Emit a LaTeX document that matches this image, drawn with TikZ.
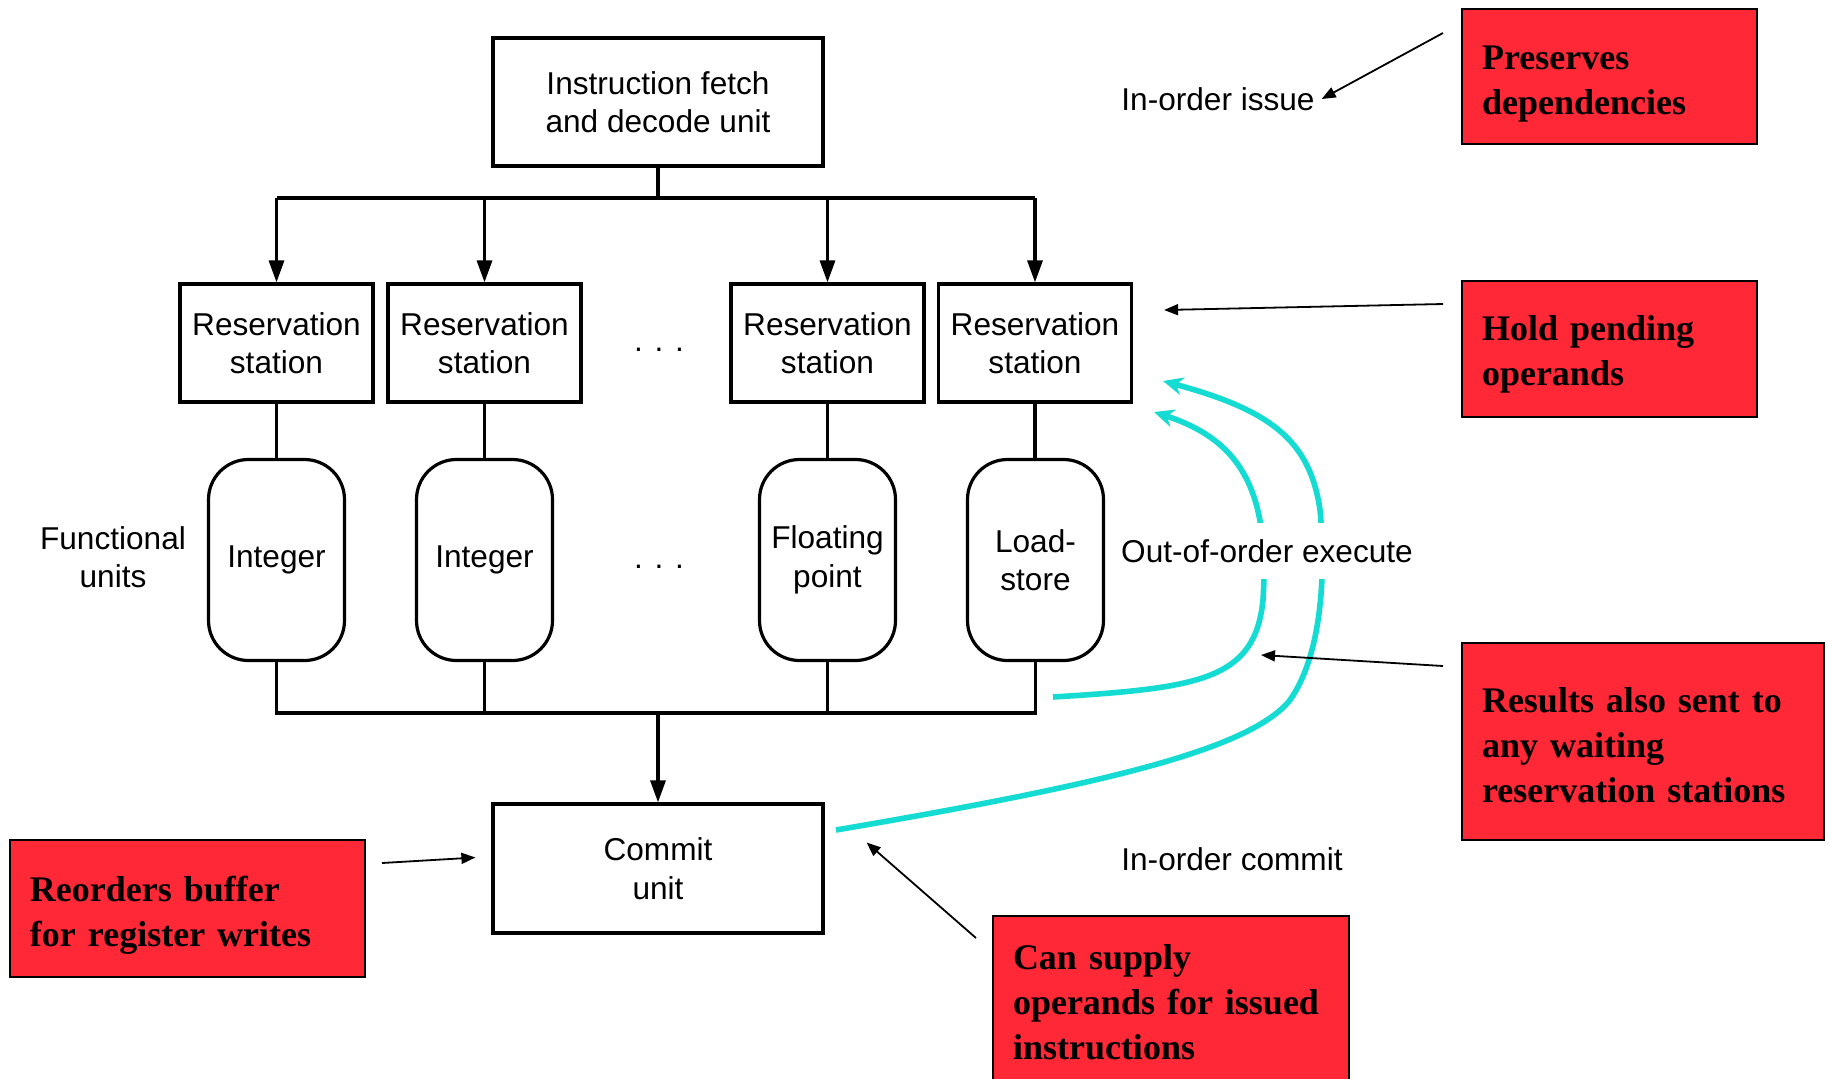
\documentclass[tikz,border=0pt]{standalone}
\usepackage{fontspec}
\setmainfont{Liberation Sans}
\newfontfamily\notefont{Liberation Serif}
\usetikzlibrary{arrows.meta}
\definecolor{notered}{RGB}{255,40,55}
\definecolor{fwdcyan}{RGB}{20,220,210}
\begin{document}
\begin{tikzpicture}[x=0.5pt,y=-0.5pt,
   every node/.style={font=\fontsize{15.8}{19.2}\selectfont, align=center},
   blockbox/.style={draw, line width=1.6pt, inner sep=0pt},
   station/.style={blockbox, minimum width=96.5pt, minimum height=59pt},
   funit/.style={blockbox, rounded corners=20pt, minimum width=68pt, minimum height=100.5pt},
   note/.style={draw, line width=1pt, fill=notered, anchor=north west, align=left,
                inner xsep=10pt, inner ysep=0pt,
                execute at begin node={\rule{0pt}{#1}},
                font=\notefont\bfseries\fontsize{18}{22.5}\selectfont},
   note/.default=0pt,
   wire/.style={line width=1.6pt},
   feed/.style={wire, -{Triangle[length=11pt,width=7.5pt]}},
   pointer/.style={line width=0.9pt, -{Triangle[length=7pt,width=5.5pt]}},
   forward/.style={line width=2.8pt, fwdcyan, -{Stealth[length=10pt,width=9pt]}}]

\useasboundingbox (0,0) rectangle (1828,1078);
\clip (0,0) rectangle (1828,1078);

\node[blockbox, minimum width=165pt, minimum height=64pt] (fetch) at (658,102) {Instruction fetch\\and decode unit};
\node[station] (rs1) at (276.5,343) {Reservation\\station};
\node[station] (rs2) at (484.5,343) {Reservation\\station};
\node[station] (rs3) at (827.5,343) {Reservation\\station};
\node[station] (rs4) at (1035,343) {Reservation\\station};
\node (dotsrs) at (659,350) {. . .};
\node[funit] (fu1) at (276.5,560) {Integer};
\node[funit] (fu2) at (484.5,560) {Integer};
\node[funit] (fu3) at (827.5,560) {Floating\\point};
\node[funit] (fu4) at (1035.5,560) {Load-\\store};
\node (dotsfu) at (659,567) {. . .};
\node (fulabel) at (113,557) {Functional\\units};
\node[blockbox, minimum width=165pt, minimum height=64.5pt] (commit) at (658,868.5) {Commit\\unit};

\coordinate (split) at (658,198);
\coordinate (bus) at (658,713);
\draw[wire] (fetch.south) -- (split);
\draw[wire] (rs1.north |- split) -- (rs4.north |- split);
\foreach \s in {rs1,rs2,rs3,rs4}
  \draw[feed] (\s.north |- split) -- (\s.north);
\foreach \i in {1,...,4}
  \draw[wire] (rs\i.south) -- (rs\i.south |- fu\i.north);
\draw[wire] (fu1.south) -- (fu1.south |- bus) -- (fu4.south |- bus) -- (fu4.south);
\draw[wire] (fu2.south) -- (fu2.south |- bus);
\draw[wire] (fu3.south) -- (fu3.south |- bus);
\draw[feed] (bus) -- (commit.north);

\coordinate (busend) at (1053,697);
\coordinate (robout) at (836,830);
\coordinate (rsinA) at (1154,412);
\coordinate (rsinB) at (1163,381);
\draw[forward] (busend) .. controls (1200,688) and (1255,680) .. (1263,600)
   .. controls (1270,490) and (1240,440) .. (rsinA);
\draw[forward] (robout) .. controls (1100,785) and (1250,750) .. (1290,700)
   .. controls (1325,650) and (1325,560) .. (1320,510)
   .. controls (1310,440) and (1270,410) .. (rsinB);

\node[fill=white, inner ysep=8pt] (ooo) at (1267,551) {Out-of-order execute};
\node (issue) at (1218,99) {In-order issue};
\node (commitlbl) at (1232,859) {In-order commit};

\node[note=19pt, text width=127.5pt, minimum height=67.5pt] (preserve) at (1461,8) {Preserves\\dependencies};
\node[note=17.5pt, text width=127.5pt, minimum height=68pt] (hold) at (1461,280) {Hold pending\\operands};
\node[note=16pt, text width=161pt, minimum height=98.5pt] (results) at (1461,642) {Results also sent to\\any waiting\\reservation stations};
\node[note, text width=158pt, minimum height=86.5pt] (supply) at (992,915) {Can supply\\operands for issued\\instructions};
\node[note=19pt, text width=157.5pt, minimum height=68.5pt] (reorder) at (9,839) {Reorders buffer\\for register writes};

\draw[pointer] ([shift={(-18,25)}]preserve.north west) -- (issue.east);
\draw[pointer] ([shift={(-18,24)}]hold.north west) -- ([shift={(31,-33)}]rs4.east);
\draw[pointer] ([shift={(-18,24)}]results.north west) -- (1261,655);
\draw[pointer] ([shift={(-16,23)}]supply.north west) -- ([shift={(42,-26)}]commit.east);
\draw[pointer] ([shift={(16,24)}]reorder.north east) -- ([shift={(-16,-11)}]commit.west);

\end{tikzpicture}
\end{document}
